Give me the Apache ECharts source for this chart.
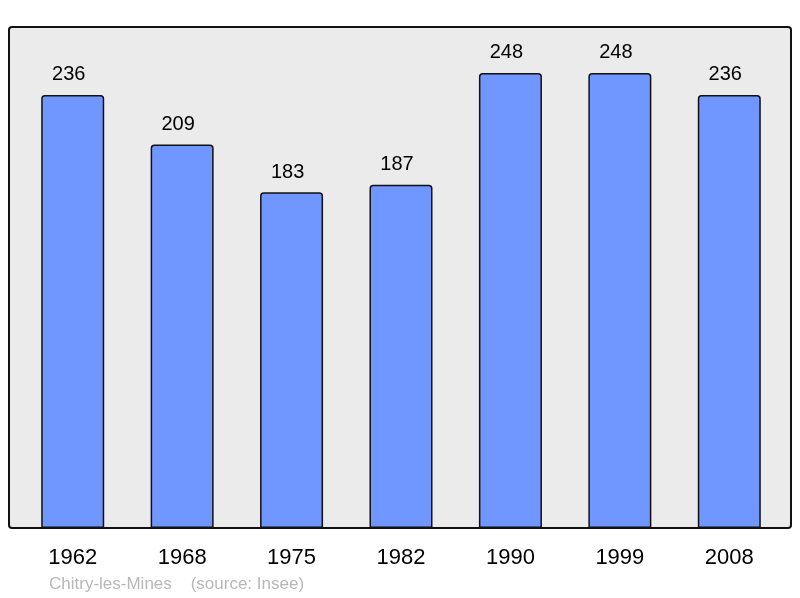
<!DOCTYPE html>
<html><head><meta charset="utf-8">
<script src="https://cdn.jsdelivr.net/npm/echarts@6/dist/echarts.min.js"></script>
<style>html,body{margin:0;padding:0;background:#fff}#c{width:800px;height:598px}</style>
</head><body><div id="c"></div>
<script>
const categories = ['1962','1968','1975','1982','1990','1999','2008'];
const population = [236, 209, 183, 187, 248, 248, 236];
const footer = 'Chitry-les-Mines    (source: Insee)';

const chart = echarts.init(document.getElementById('c'), null, {renderer:'canvas'});
chart.setOption({
  animation: false,
  backgroundColor: '#ffffff',
  graphic: [
    { type:'rect', z:-1, shape:{x:9, y:27, width:782, height:501, r:3},
      style:{fill:'#ebebeb', stroke:'#111', lineWidth:2} },
    { type:'text', left:49, top:576, style:{text:footer, fill:'#b8b8b8', font:'17px "Liberation Sans", Arial, sans-serif'} }
  ],
  grid: { left:18, right:16, top:27, bottom:70, containLabel:false },
  xAxis: {
    type:'category', data:categories,
    axisLine:{show:false}, axisTick:{show:false},
    axisLabel:{color:'#000', fontSize:22, margin:19, fontFamily:'"Liberation Sans", Arial, sans-serif'}
  },
  yAxis: { type:'value', min:0, max:273, show:false, splitLine:{show:false} },
  series: [{
    type:'bar', data:population, barWidth:63,
    itemStyle:{color:'#7096ff', borderColor:'#111', borderWidth:1.5, borderRadius:[3,3,0,0]},
    label:{show:true, position:'top', distance:10, color:'#000', fontSize:20,
      fontFamily:'"Liberation Sans", Arial, sans-serif', offset:[-4,0]}
  }]
});
</script></body></html>
